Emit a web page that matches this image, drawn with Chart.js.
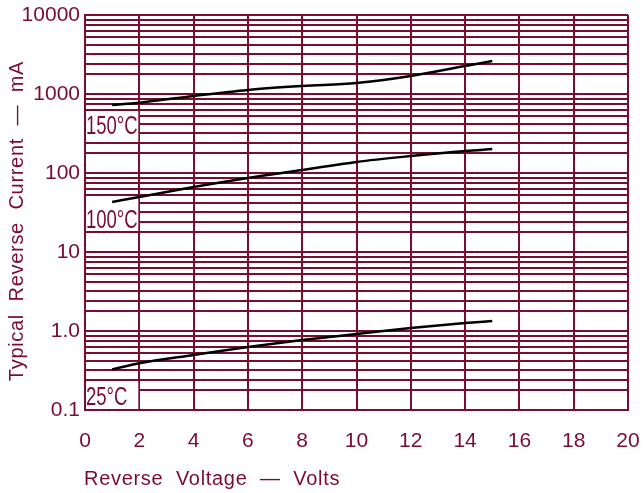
<!DOCTYPE html>
<html>
<head>
<meta charset="utf-8">
<script src="https://cdn.jsdelivr.net/npm/chart.js@4.4.1/dist/chart.umd.min.js"></script>
<style>
  body { margin: 0; background: #fff; }
  #chart { display: block; }
</style>
</head>
<body>
<canvas id="chart" width="643" height="493"></canvas>
<script>
// --- data ---
const voltage = [1, 2, 4, 6, 8, 10, 12, 14, 15];
const current150 = [726, 776, 944, 1124, 1262, 1377, 1690, 2260, 2618];
const current100 = [43, 49.7, 66.5, 86.5, 109, 138, 164, 190, 201];
const current25 = [0.327, 0.39, 0.497, 0.627, 0.769, 0.916, 1.09, 1.26, 1.34];

const xTickValues = [0, 2, 4, 6, 8, 10, 12, 14, 16, 18, 20];
const yDecades = [0.1, 1, 10, 100, 1000, 10000];
const yDecadeLabels = ['0.1', '1.0', '10', '100', '1000', '10000'];
const yMinorMultiples = [1.8, 2.4, 3.2, 4.2, 5.2, 6.3, 7.5, 8.7];

// temperature labels: text, box in data units [xMin, xMax, yMin, yMax]
const tempLabels = ['150°C', '100°C', '25°C'];
const tempBoxes = [[0, 2, 240, 630], [0, 2, 18, 52], [0, 2, 0.1, 0.24]];

const maroon = '#7a0c2e';

// all y grid values
let yGridValues = [];
yDecades.forEach((d, i) => {
	yGridValues.push(d);
	if (i < yDecades.length - 1) {
		yMinorMultiples.forEach(m => yGridValues.push(+(d * m).toPrecision(3)));
	}
});

const toPoints = (ys) => voltage.map((v, i) => ({ x: v, y: ys[i] }));

const lineSet = (ys) => ({
	data: toPoints(ys),
	borderColor: '#000',
	borderWidth: 2.5,
	pointRadius: 0,
	fill: false,
	tension: 0.4,
	cubicInterpolationMode: 'monotone'
});

/**
 * 온도 라벨 박스 (격자 가림)
 */
const tempLabelPlugin = {
	id: 'tempLabels',
	beforeDatasetsDraw(chart) {
		const { ctx, scales: { x, y } } = chart;
		tempBoxes.forEach((b, i) => {
			const left = x.getPixelForValue(b[0]) + 1;
			const right = x.getPixelForValue(b[1]) - 1;
			const bottom = y.getPixelForValue(b[2]) - 1;
			const top = y.getPixelForValue(b[3]) + 1.5;
			ctx.save();
			ctx.fillStyle = '#fff';
			ctx.fillRect(left, top, right - left, bottom - top);
			ctx.fillStyle = maroon;
			ctx.font = '25px "Liberation Sans", Arial, sans-serif';
			ctx.textBaseline = 'alphabetic';
			ctx.translate(left, i === 2 ? bottom - 4 : (i === 0 ? y.getPixelForValue(b[2]) - 9 : y.getPixelForValue(b[2]) - 4));
			ctx.scale(0.74, 1);
			ctx.fillText(tempLabels[i], 0, 0);
			ctx.restore();
		});
	}
};

/**
 * 축 제목
 */
const axisTitlePlugin = {
	id: 'axisTitles',
	afterDraw(chart) {
		const { ctx } = chart;
		ctx.save();
		ctx.fillStyle = maroon;
		ctx.font = '20px "Liberation Sans", Arial, sans-serif';
		ctx.letterSpacing = '0.7px';
		ctx.textBaseline = 'middle';
		ctx.textAlign = 'left';
		ctx.fillText('Reverse  Voltage  —  Volts', 84, 479);
		ctx.translate(17, 221);
		ctx.rotate(-Math.PI / 2);
		ctx.textAlign = 'center';
		ctx.fillText('Typical  Reverse  Current  —  mA', 0, 0);
		ctx.restore();
	}
};

new Chart(document.getElementById('chart'), {
	type: 'line',
	data: {
		datasets: [lineSet(current150), lineSet(current100), lineSet(current25)]
	},
	options: {
		responsive: false,
		animation: false,
		layout: { padding: { left: 0, right: 15, top: 15, bottom: 0 } },
		plugins: {
			legend: { display: false },
			tooltip: { enabled: false }
		},
		scales: {
			x: {
				type: 'linear',
				min: 0,
				max: 20,
				afterBuildTicks: (scale) => { scale.ticks = xTickValues.map(v => ({ value: v })); },
				afterFit: (scale) => {
					scale.height = 83;
					scale.paddingLeft = 0;
					scale.paddingRight = 0;
				},
				grid: { color: maroon, lineWidth: 2, drawTicks: false },
				border: { display: true, color: maroon, width: 2 },
				ticks: {
					color: maroon,
					padding: 19,
					autoSkip: false,
					maxRotation: 0,
					font: { family: '"Liberation Sans", Arial, sans-serif', size: 21 }
				}
			},
			y: {
				type: 'logarithmic',
				min: 0.1,
				max: 10000,
				afterBuildTicks: (scale) => { scale.ticks = yGridValues.map(v => ({ value: v })); },
				afterFit: (scale) => {
					scale.width = 85;
					scale.paddingTop = 0;
					scale.paddingBottom = 0;
				},
				grid: { color: maroon, lineWidth: 2, drawTicks: false },
				border: { display: true, color: maroon, width: 2 },
				ticks: {
					color: maroon,
					padding: 5,
					autoSkip: false,
					font: { family: '"Liberation Sans", Arial, sans-serif', size: 21 },
					callback: (value) => {
						const i = yDecades.indexOf(value);
						return i >= 0 ? yDecadeLabels[i] : '';
					}
				}
			}
		}
	},
	plugins: [tempLabelPlugin, axisTitlePlugin]
});
</script>
</body>
</html>
